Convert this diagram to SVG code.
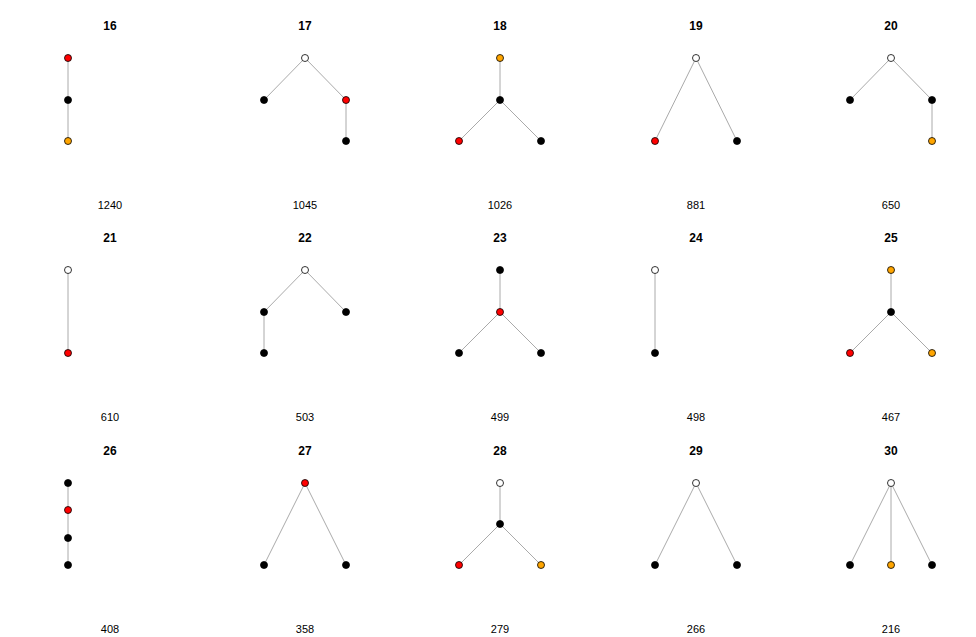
<svg xmlns="http://www.w3.org/2000/svg" width="976" height="637" viewBox="0 0 976 637">
<style>
.t{font-family:"Liberation Sans",Arial,sans-serif;font-size:12px;font-weight:bold;text-anchor:middle;fill:#000}
.c{font-family:"Liberation Sans",Arial,sans-serif;font-size:11px;text-anchor:middle;fill:#000}
.e{stroke:#aaaaaa;stroke-width:1;fill:none}
circle{r:3.5px;stroke:#000;stroke-width:0.8}
.w{fill:#fff}.k{fill:#000}.r{fill:#ff0000}.o{fill:#ffa500}
</style>
<rect width="976" height="637" fill="#fff"/>
<g id="connectors">
<path class="e" d="M68 58V141"/>
<path class="e" d="M264 100L305 58L346 100V141"/>
<path class="e" d="M500 58V100M459 141L500 100L541 141"/>
<path class="e" d="M655 141L696 58L737 141"/>
<path class="e" d="M850 100L891 58L932 100V141"/>
<path class="e" d="M68 270V353"/>
<path class="e" d="M264 353V312L305 270L346 312"/>
<path class="e" d="M500 270V312M459 353L500 312L541 353"/>
<path class="e" d="M655 270V353"/>
<path class="e" d="M891 270V312M850 353L891 312L932 353"/>
<path class="e" d="M68 483V565"/>
<path class="e" d="M264 565L305 483L346 565"/>
<path class="e" d="M500 483V524M459 565L500 524L541 565"/>
<path class="e" d="M655 565L696 483L737 565"/>
<path class="e" d="M850 565L891 483L932 565M891 483V565"/>
</g>
<g id="n16"><text class="t" x="110" y="30">16</text><circle class="r" cx="68" cy="58"/><circle class="k" cx="68" cy="100"/><circle class="o" cx="68" cy="141"/><text class="c" x="110" y="209">1240</text></g>
<g id="n17"><text class="t" x="305" y="30">17</text><circle class="w" cx="305" cy="58"/><circle class="k" cx="264" cy="100"/><circle class="r" cx="346" cy="100"/><circle class="k" cx="346" cy="141"/><text class="c" x="305" y="209">1045</text></g>
<g id="n18"><text class="t" x="500" y="30">18</text><circle class="o" cx="500" cy="58"/><circle class="k" cx="500" cy="100"/><circle class="r" cx="459" cy="141"/><circle class="k" cx="541" cy="141"/><text class="c" x="500" y="209">1026</text></g>
<g id="n19"><text class="t" x="696" y="30">19</text><circle class="w" cx="696" cy="58"/><circle class="r" cx="655" cy="141"/><circle class="k" cx="737" cy="141"/><text class="c" x="696" y="209">881</text></g>
<g id="n20"><text class="t" x="891" y="30">20</text><circle class="w" cx="891" cy="58"/><circle class="k" cx="850" cy="100"/><circle class="k" cx="932" cy="100"/><circle class="o" cx="932" cy="141"/><text class="c" x="891" y="209">650</text></g>
<g id="n21"><text class="t" x="110" y="242">21</text><circle class="w" cx="68" cy="270"/><circle class="r" cx="68" cy="353"/><text class="c" x="110" y="421">610</text></g>
<g id="n22"><text class="t" x="305" y="242">22</text><circle class="w" cx="305" cy="270"/><circle class="k" cx="264" cy="312"/><circle class="k" cx="346" cy="312"/><circle class="k" cx="264" cy="353"/><text class="c" x="305" y="421">503</text></g>
<g id="n23"><text class="t" x="500" y="242">23</text><circle class="k" cx="500" cy="270"/><circle class="r" cx="500" cy="312"/><circle class="k" cx="459" cy="353"/><circle class="k" cx="541" cy="353"/><text class="c" x="500" y="421">499</text></g>
<g id="n24"><text class="t" x="696" y="242">24</text><circle class="w" cx="655" cy="270"/><circle class="k" cx="655" cy="353"/><text class="c" x="696" y="421">498</text></g>
<g id="n25"><text class="t" x="891" y="242">25</text><circle class="o" cx="891" cy="270"/><circle class="k" cx="891" cy="312"/><circle class="r" cx="850" cy="353"/><circle class="o" cx="932" cy="353"/><text class="c" x="891" y="421">467</text></g>
<g id="n26"><text class="t" x="110" y="455">26</text><circle class="k" cx="68" cy="483"/><circle class="r" cx="68" cy="510"/><circle class="k" cx="68" cy="538"/><circle class="k" cx="68" cy="565"/><text class="c" x="110" y="633">408</text></g>
<g id="n27"><text class="t" x="305" y="455">27</text><circle class="r" cx="305" cy="483"/><circle class="k" cx="264" cy="565"/><circle class="k" cx="346" cy="565"/><text class="c" x="305" y="633">358</text></g>
<g id="n28"><text class="t" x="500" y="455">28</text><circle class="w" cx="500" cy="483"/><circle class="k" cx="500" cy="524"/><circle class="r" cx="459" cy="565"/><circle class="o" cx="541" cy="565"/><text class="c" x="500" y="633">279</text></g>
<g id="n29"><text class="t" x="696" y="455">29</text><circle class="w" cx="696" cy="483"/><circle class="k" cx="655" cy="565"/><circle class="k" cx="737" cy="565"/><text class="c" x="696" y="633">266</text></g>
<g id="n30"><text class="t" x="891" y="455">30</text><circle class="w" cx="891" cy="483"/><circle class="k" cx="850" cy="565"/><circle class="o" cx="891" cy="565"/><circle class="k" cx="932" cy="565"/><text class="c" x="891" y="633">216</text></g>
</svg>
